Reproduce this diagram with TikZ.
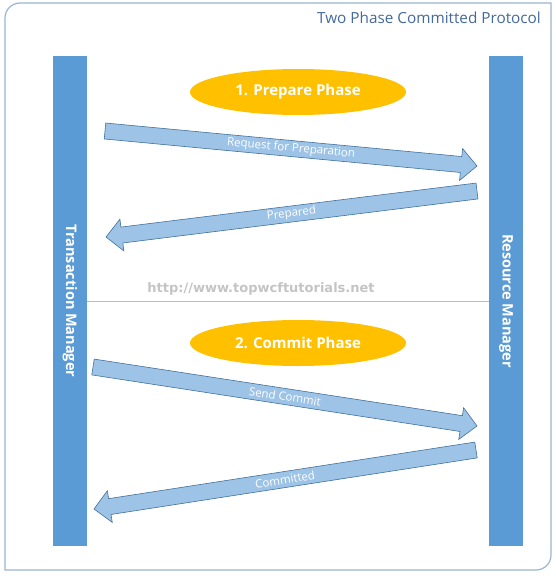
\documentclass[tikz,border=0pt]{standalone}
\usepackage{fontspec}
\setmainfont{Open Sans}
\newfontfamily\urlfont{DejaVu Sans}
\usetikzlibrary{shapes.geometric,calc}
\definecolor{framecol}{HTML}{9AB4D0}
\definecolor{titleblue}{HTML}{44699B}
\definecolor{barblue}{HTML}{5B9BD5}
\definecolor{phaseyellow}{HTML}{FFC000}
\definecolor{msgblue}{HTML}{9DC3E6}
\definecolor{msgedge}{HTML}{41719C}
\definecolor{urlgray}{HTML}{C4C4C4}

\begin{document}
\begin{tikzpicture}[x=1pt, y=-1pt]
    \tikzstyle{manager}=[rectangle,fill=barblue,rotate=-90,minimum width=490pt,minimum height=34pt,inner sep=0pt,text=white,font=\bfseries\fontsize{14.5}{17}\selectfont]
    \tikzstyle{phase}=[ellipse,fill=phaseyellow,minimum width=216pt,minimum height=46pt,inner sep=0pt,text=white,font=\bfseries\fontsize{15}{18}\selectfont]
    \tikzstyle{message}=[fill=msgblue,draw=msgedge,line width=0.6pt,line join=miter]
    \tikzstyle{message label}=[sloped,text=white,inner sep=0pt,font=\fontsize{11.5}{14}\selectfont]

    \useasboundingbox (0,0) rectangle (556,578);

    % Draw the outer frame and its title
    \draw[framecol, line width=1.2pt] (5,570) -- (5,18) .. controls (5,9.7) and (11.7,3) .. (20,3)
        -- (551,3) -- (551,555) .. controls (551,563.3) and (544.3,570) .. (536,570) -- cycle;
    \node[anchor=east, inner sep=0pt, text=titleblue, font=\fontsize{15.3}{18}\selectfont] (title) at (541,18) {Two Phase Committed Protocol};

    % Draw the two managers
    \node[manager] (TM) at (70,301) {Transaction Manager};
    \node[manager] (RM) at (506,301) {Resource Manager};

    % Split the two phases
    \draw[msgblue, line width=1pt] (TM) -- (RM);
    \node[text=urlgray, font=\urlfont\bfseries\fontsize{13}{15}\selectfont] (url) at (261,289) {http://www.topwcftutorials.net};

    % Draw the phase ellipses
    \node[phase] (P-1) at (298,92) {1. Prepare Phase};
    \node[phase] (P-2) at (298,343) {2. Commit Phase};

    % Start and end of every message
    \coordinate (S-1) at (105,131); \coordinate (E-1) at (477,166);
    \coordinate (S-2) at (477,191); \coordinate (E-2) at (106,237);
    \coordinate (S-3) at (93,367);  \coordinate (E-3) at (477,426);
    \coordinate (S-4) at (476,450); \coordinate (E-4) at (94,509);

    % Draw every message as a block arrow with its label
    \foreach \name / \txt in {1/Request for Preparation, 2/Prepared, 3/Send Commit, 4/Committed}
    {
        \coordinate (H) at ($(E-\name)!16pt!(S-\name)$);
        \draw[message] ($(S-\name)!8pt!-90:(E-\name)$) -- ($(H)!8pt!90:(S-\name)$)
            -- ($(H)!16pt!90:(S-\name)$) -- (E-\name) -- ($(H)!16pt!-90:(S-\name)$)
            -- ($(H)!8pt!-90:(S-\name)$) -- ($(S-\name)!8pt!90:(E-\name)$) -- cycle;
        \path (S-\name) -- (E-\name) node[midway, message label] {\txt};
    }
\end{tikzpicture}
\end{document}
